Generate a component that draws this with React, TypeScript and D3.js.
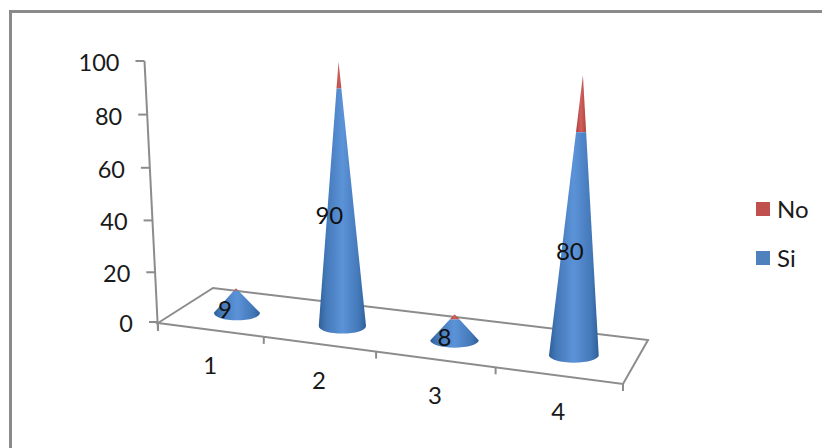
import React from "react";
import * as d3 from "d3";

const categories = ["1", "2", "3", "4"];
const siValues = [9, 90, 8, 80];
const noValues = [1, 10, 2, 20];
const yTicks = [0, 20, 40, 60, 80, 100];
const legendItems = [
  { name: "No", color: "#c0504d" },
  { name: "Si", color: "#4f81bd" },
];

const W = 822;
const H = 448;
const FONT = "Lato, 'Open Sans', sans-serif";
const AXIS = "#8c8c8c";
const TEXT = "#1a1a1a";

// Projected floor of the 3-D chart
const front0 = { x: 158, y: 323 };
const front1 = { x: 623, y: 384 };
const back0 = { x: 213, y: 288 };
const back1 = { x: 648, y: 340 };
const PERSPECTIVE = 1.132;

const persp = (t: number) => t / (t + (1 - t) * PERSPECTIVE);
const band = d3.scaleBand<string>().domain(categories).range([0, 1]);
const frontX = d3.scaleLinear().domain([0, 1]).range([front0.x, front1.x]);
const frontY = d3.scaleLinear().domain([0, 1]).range([front0.y, front1.y]);
const depthX = d3.scaleLinear().domain([0, 1]).range([back0.x - front0.x, back1.x - front1.x]);
const depthY = d3.scaleLinear().domain([0, 1]).range([back0.y - front0.y, back1.y - front1.y]);

// Projected y axis
const axisX = d3.scaleLinear().domain([0, 100]).range([158, 144.5]);
const axisY = d3.scalePow().exponent(1.03).domain([0, 100]).range([322, 61]);
// Height of a cone, as a share of the full height at its depth
const coneShare = d3.scalePow().exponent(1.02).domain([0, 100]).range([0, 1]);
const coneFull = d3.scaleLinear().domain([0, 1]).range([254, 284]);
const coneRadius = d3.scaleLinear().domain([0, 1]).range([22.8, 25.2]);
const coneLean = d3.scaleLinear().domain([0, 1]).range([-0.046, 0.045]);
const CONE_RY = 7.5;
const labelShift = [-12, -13, -10, -4];

const cones = categories.map((c, i) => {
  const t = (band(c) ?? 0) + band.bandwidth() / 2;
  const g = persp(t);
  const cx = frontX(g) + depthX(g) * 0.5 + 1;
  const by = frontY(g) + depthY(g) * 0.5 + 1;
  const r = coneRadius(g);
  const full = coneFull(g);
  const si = siValues[i];
  const total = si + noValues[i];
  const hTotal = coneShare(total) * full;
  const hSi = coneShare(si) * full;
  const rTop = r * (1 - hSi / hTotal);
  const lean = coneLean(g);
  return {
    c, i, cx, by, r, rTop, si,
    apexX: cx + lean * hTotal,
    apexY: by - hTotal,
    splitX: cx + lean * hSi,
    splitY: by - hSi,
    labelX: cx + labelShift[i],
    labelY: by - hSi / 2 + 7,
    frontLabelX: frontX(g),
    frontLabelY: frontY(g) + 35,
  };
});

const xEdges = [0, 0.25, 0.5, 0.75, 1].map(persp);

export default function App() {
  return (
    <svg
      width={W}
      height={H}
      viewBox={`0 0 ${W} ${H}`}
      style={{ position: "fixed", left: 0, top: 0, background: "#fff" }}
    >
      <defs>
        <linearGradient id="blue" x1="0" x2="1" y1="0" y2="0">
          <stop offset="0" stopColor="#2f5f98" />
          <stop offset="0.15" stopColor="#4378b8" />
          <stop offset="0.5" stopColor="#5c93d8" />
          <stop offset="0.85" stopColor="#4378b8" />
          <stop offset="1" stopColor="#2f5f98" />
        </linearGradient>
        <linearGradient id="red" x1="0" x2="1" y1="0" y2="0">
          <stop offset="0" stopColor="#b0413e" />
          <stop offset="0.5" stopColor="#d0605c" />
          <stop offset="1" stopColor="#b0413e" />
        </linearGradient>
      </defs>

      <rect x={10.5} y={11.5} width={820} height={445} fill="#fff" stroke="#8a8a8a" strokeWidth={3} />

      {/* floor */}
      <path
        d={`M${front0.x},${front0.y}L${front1.x},${front1.y}L${back1.x},${back1.y}L${back0.x},${back0.y}Z`}
        fill="#fff"
        stroke={AXIS}
        strokeWidth={2}
      />

      {/* y axis */}
      <line x1={axisX(0)} y1={axisY(0) + 9} x2={axisX(100)} y2={axisY(100)} stroke={AXIS} strokeWidth={2} />
      {yTicks.map((v) => (
        <g key={v}>
          <line x1={axisX(v) - 9} x2={axisX(v)} y1={axisY(v)} y2={axisY(v)} stroke={AXIS} strokeWidth={2} />
          <text
            x={axisX(v) - 25}
            y={axisY(v) + 1}
            textAnchor="end"
            dominantBaseline="central"
            fontFamily={FONT}
            fontSize={23.5}
            fill={TEXT}
          >
            {v}
          </text>
        </g>
      ))}

      {/* x ticks */}
      {xEdges.map((g, i) => (
        <line
          key={i}
          x1={frontX(g)}
          x2={frontX(g)}
          y1={frontY(g)}
          y2={frontY(g) + 7}
          stroke={AXIS}
          strokeWidth={2}
        />
      ))}

      {/* cones */}
      {cones.map((d) => (
        <g key={d.c}>
          <path
            d={`M${d.splitX - d.rTop},${d.splitY}L${d.splitX + d.rTop},${d.splitY}L${d.apexX},${d.apexY}Z`}
            fill="url(#red)"
          />
          <path
            d={`M${d.cx - d.r},${d.by}A${d.r},${CONE_RY} 0 0 0 ${d.cx + d.r},${d.by}L${d.splitX + d.rTop},${d.splitY}L${d.splitX - d.rTop},${d.splitY}Z`}
            fill="url(#blue)"
          />
        </g>
      ))}

      {/* data labels */}
      {cones.map((d) => (
        <text
          key={d.c}
          x={d.labelX}
          y={d.labelY}
          textAnchor="middle"
          dominantBaseline="central"
          fontFamily={FONT}
          fontSize={24}
          fill="#111"
        >
          {d.si}
        </text>
      ))}

      {/* category labels */}
      {cones.map((d) => (
        <text
          key={d.c}
          x={d.frontLabelX}
          y={d.frontLabelY}
          textAnchor="middle"
          dominantBaseline="central"
          fontFamily={FONT}
          fontSize={24}
          fill={TEXT}
        >
          {d.c}
        </text>
      ))}

      {/* legend */}
      {legendItems.map((l, i) => (
        <g key={l.name} transform={`translate(756,${202 + i * 49})`}>
          <rect width={14} height={14} fill={l.color} />
          <text x={21} y={6.5} dominantBaseline="central" fontFamily={FONT} fontSize={24} fill={TEXT}>
            {l.name}
          </text>
        </g>
      ))}
    </svg>
  );
}
